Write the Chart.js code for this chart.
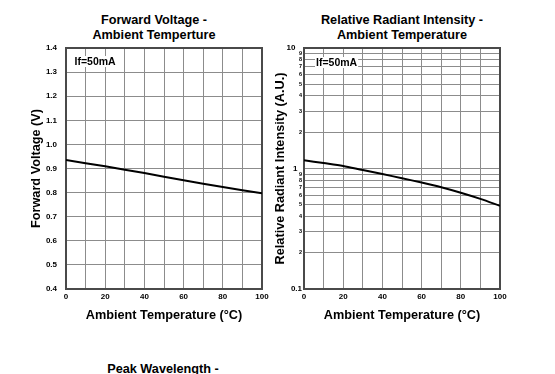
<!DOCTYPE html>
<html>
<head>
<meta charset="utf-8">
<script src="https://cdn.jsdelivr.net/npm/chart.js@4"></script>
<style>
  body { margin: 0; background: #fff; width: 555px; height: 374px; overflow: hidden; position: relative; font-family: 'Liberation Sans', Arial, sans-serif; }
  .title { position: absolute; font-weight: bold; font-size: 12.7px; line-height: 15.2px; text-align: center; color: #000; white-space: nowrap; }
  canvas { position: absolute; top: 0; }
</style>
</head>
<body>
<div class="title" style="left:54px; width:200px; top:12.5px;">Forward Voltage -<br>Ambient Temperture</div>
<div class="title" style="left:292px; width:220px; top:12.5px;">Relative Radiant Intensity -<br>Ambient Temperature</div>
<div class="title" style="left:63px; width:200px; top:362px;">Peak Wavelength -</div>
<div style="position:absolute; left:0; top:0; width:280px; height:330px;"><canvas id="vfChart"></canvas></div>
<div style="position:absolute; left:265px; top:0; width:290px; height:330px;"><canvas id="ieChart"></canvas></div>
<script>
const FONT = "'Liberation Sans', Arial, sans-serif";

// data
const temps = [0, 10, 20, 30, 40, 50, 60, 70, 80, 90, 100];
const forwardVoltage = [0.935, 0.922, 0.909, 0.895, 0.881, 0.866, 0.851, 0.837, 0.823, 0.810, 0.797];
const radiantIntensity = [1.17, 1.11, 1.05, 0.97, 0.90, 0.83, 0.765, 0.70, 0.63, 0.56, 0.49];

const tempTicks = [0, 10, 20, 30, 40, 50, 60, 70, 80, 90, 100];
const tempLabels = ['0', '', '20', '', '40', '', '60', '', '80', '', '100'];
const voltTicks = [0.4, 0.5, 0.6, 0.7, 0.8, 0.9, 1.0, 1.1, 1.2, 1.3, 1.4];
const logTicks = [0.1, 0.2, 0.3, 0.4, 0.5, 0.6, 0.7, 0.8, 0.9, 1, 2, 3, 4, 5, 6, 7, 8, 9, 10];
const logLabels = ['0.1', '2', '3', '4', '5', '6', '7', '8', '9', '1  ', '2', '3', '4', '5', '6', '7', '8', '9', '10   '];
const majorLog = [0.1, 1, 10];
const conditionText = 'If=50mA';

const GRID = '#8c8c8c';

const framePlugin = {
    id: 'frame',
    beforeDatasetsDraw(chart) {
        const { ctx, chartArea: a } = chart;
        ctx.save();
        ctx.strokeStyle = '#4a4a4a';
        ctx.lineWidth = 2;
        ctx.strokeRect(a.left, a.top, a.right - a.left, a.bottom - a.top);
        ctx.restore();
    }
};

const notePlugin = {
    id: 'note',
    afterDatasetsDraw(chart, args, opts) {
        const { ctx, chartArea: a } = chart;
        ctx.save();
        ctx.font = 'bold 10.5px ' + FONT;
        const w = ctx.measureText(opts.text).width;
        const x = a.left + opts.dx;
        const y = a.top + opts.dy;
        ctx.fillStyle = '#fff';
        ctx.fillRect(x - 1, y - 9, w + 2, 11);
        ctx.fillStyle = '#000';
        ctx.textBaseline = 'alphabetic';
        ctx.fillText(opts.text, x, y);
        ctx.restore();
    }
};

function xScale() {
    return {
        type: 'linear',
        min: 0,
        max: 100,
        afterBuildTicks: s => { s.ticks = tempTicks.map(v => ({ value: v })); },
        afterFit: s => { s.height = 41; },
        ticks: {
            autoSkip: false,
            maxRotation: 0,
            padding: 3,
            color: '#000',
            font: { family: FONT, size: 8, weight: 'bold' },
            callback: (v, i) => tempLabels[i]
        },
        grid: { color: GRID, lineWidth: 1, drawTicks: false },
        border: { display: false },
        title: {
            display: true,
            text: 'Ambient Temperature (°C)',
            color: '#000',
            font: { family: FONT, size: 12.7, weight: 'bold' },
            padding: { top: 0, bottom: 7 }
        }
    };
}

new Chart(document.getElementById('vfChart'), {
    type: 'line',
    data: {
        datasets: [{
            data: temps.map((t, i) => ({ x: t, y: forwardVoltage[i] })),
            borderColor: '#000',
            borderWidth: 2,
            pointRadius: 0,
            tension: 0,
            fill: false
        }]
    },
    options: {
        responsive: true,
        maintainAspectRatio: false,
        animation: false,
        layout: { padding: { left: 29, right: 18, top: 48, bottom: 0 } },
        plugins: {
            legend: { display: false },
            tooltip: { enabled: false },
            note: { text: conditionText, dx: 8.5, dy: 17 }
        },
        scales: {
            x: xScale(),
            y: {
                type: 'linear',
                min: 0.4,
                max: 1.4,
                afterBuildTicks: s => { s.ticks = voltTicks.map(v => ({ value: v })); },
                afterFit: s => { s.width = 37; },
                ticks: {
                    autoSkip: false,
                    padding: 9,
                    color: '#000',
                    font: { family: FONT, size: 8, weight: 'bold' },
                    callback: v => v.toFixed(1)
                },
                grid: { color: GRID, lineWidth: 1, drawTicks: false },
                border: { display: false },
                title: {
                    display: true,
                    text: 'Forward Voltage (V)',
                    color: '#000',
                    font: { family: FONT, size: 12.7, weight: 'bold' },
                    padding: 0
                }
            }
        }
    },
    plugins: [framePlugin, notePlugin]
});

new Chart(document.getElementById('ieChart'), {
    type: 'line',
    data: {
        datasets: [{
            data: temps.map((t, i) => ({ x: t, y: radiantIntensity[i] })),
            borderColor: '#000',
            borderWidth: 2,
            pointRadius: 0,
            tension: 0.3,
            fill: false
        }]
    },
    options: {
        responsive: true,
        maintainAspectRatio: false,
        animation: false,
        layout: { padding: { left: 8, right: 55, top: 48, bottom: 0 } },
        plugins: {
            legend: { display: false },
            tooltip: { enabled: false },
            note: { text: conditionText, dx: 12, dy: 18 }
        },
        scales: {
            x: xScale(),
            y: {
                type: 'logarithmic',
                min: 0.1,
                max: 10,
                afterBuildTicks: s => { s.ticks = logTicks.map(v => ({ value: v })); },
                afterFit: s => { s.width = 31; },
                ticks: {
                    autoSkip: false,
                    padding: 2,
                    color: '#000',
                    font: ctx => majorLog.includes(ctx.tick.value)
                        ? { family: FONT, size: 8, weight: 'bold' }
                        : { family: FONT, size: 5.5, weight: 'bold' },
                    callback: (v, i) => logLabels[i]
                },
                grid: { color: GRID, lineWidth: 1, drawTicks: false },
                border: { display: false },
                title: {
                    display: true,
                    text: 'Relative Radiant Intensity (A.U.)',
                    color: '#000',
                    font: { family: FONT, size: 12.7, weight: 'bold' },
                    padding: 0
                }
            }
        }
    },
    plugins: [framePlugin, notePlugin]
});
</script>
</body>
</html>
